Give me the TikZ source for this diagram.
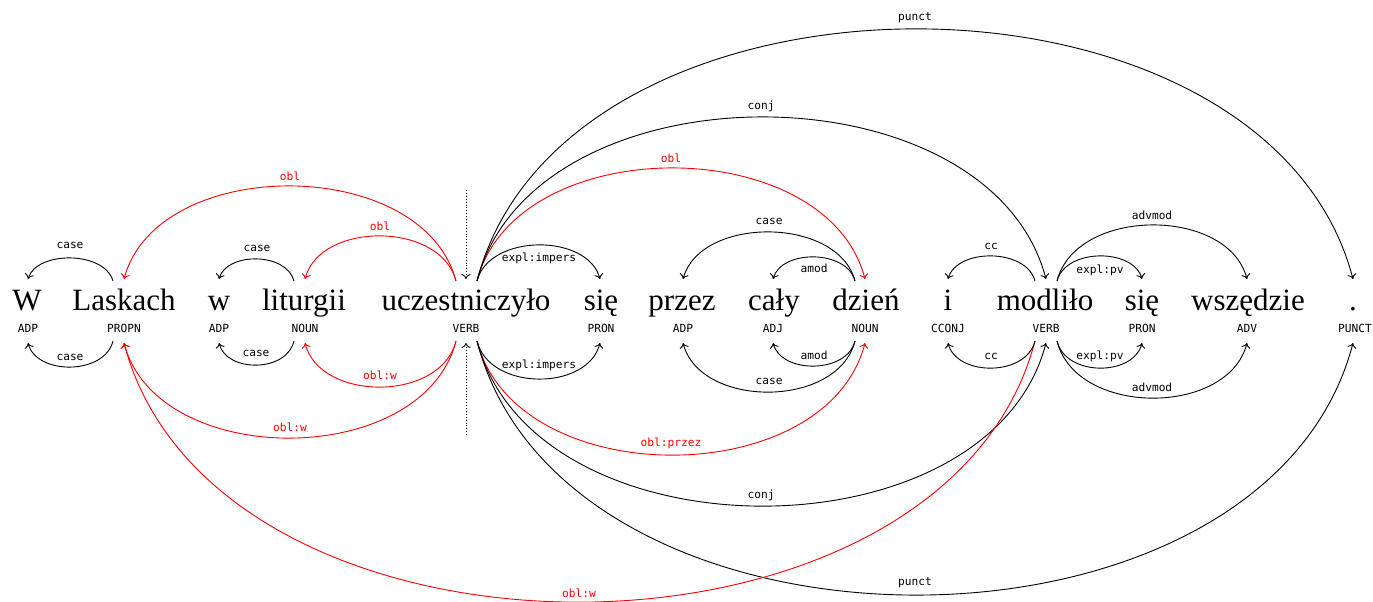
\documentclass[tikz,border=0pt]{standalone}
\usepackage{fontspec}
\usetikzlibrary{arrows.meta,calc}
\newfontfamily\wordfont{Liberation Serif}
\newfontfamily\labfont{DejaVu Sans Mono}
\newcommand\deparc[4]{%
  \draw[#1] let \p1=(#2), \p2=(#3) in (#2) .. controls ({\x1+0.1*(\x2-\x1)},{-(#4)*1pt}) and ({\x2-0.1*(\x2-\x1)},{-(#4)*1pt}) .. (#3);}
\begin{document}
\begin{tikzpicture}[x=1pt,y=-1pt,
  word/.style={font=\wordfont\fontsize{31}{36}\selectfont, anchor=base, inner sep=0pt},
  tag/.style={font=\labfont\fontsize{11.2}{13}\selectfont, anchor=base, inner sep=0pt},
  lab/.style={font=\labfont\fontsize{11.2}{13}\selectfont, inner sep=0pt},
  rlab/.style={lab, text=red},
  dep/.style={-{To[length=5pt,width=9pt]}, line width=0.9pt},
  rdep/.style={dep, draw=red},
  rootdep/.style={dep, dotted}]
\useasboundingbox (0,0) rectangle (1373,602);
% words
\node[word] (w1) at (27,310) {W};
\node[word] (w2) at (124,310) {Laskach};
\node[word] (w3) at (219,310) {w};
\node[word] (w4) at (304,310) {liturgii};
\node[word] (w5) at (466,310) {uczestniczyło};
\node[word] (w6) at (601,310) {się};
\node[word] (w7) at (682,310) {przez};
\node[word] (w8) at (774,310) {cały};
\node[word] (w9) at (866,310) {dzień};
\node[word] (w10) at (948,310) {i};
\node[word] (w11) at (1045,310) {modliło};
\node[word] (w12) at (1142,310) {się};
\node[word] (w13) at (1248,310) {wszędzie};
\node[word] (w14) at (1353,310) {.};
% tags
\node[tag] (p1) at (28,332) {ADP};
\node[tag] (p2) at (124,332) {PROPN};
\node[tag] (p3) at (219,332) {ADP};
\node[tag] (p4) at (305,332) {NOUN};
\node[tag] (p5) at (466,332) {VERB};
\node[tag] (p6) at (601,332) {PRON};
\node[tag] (p7) at (683,332) {ADP};
\node[tag] (p8) at (773,332) {ADJ};
\node[tag] (p9) at (865,332) {NOUN};
\node[tag] (p10) at (948,332) {CCONJ};
\node[tag] (p11) at (1046,332) {VERB};
\node[tag] (p12) at (1142,332) {PRON};
\node[tag] (p13) at (1247,332) {ADV};
\node[tag] (p14) at (1355,332) {PUNCT};
% incoming points
\foreach \n/\x in {1/28,2/124,3/219,4/305,5/466,6/600,7/683,8/773,9/865,10/948,11/1046,12/1142,13/1247,14/1353}{
  \coordinate (iT\n) at (\x,279);
  \coordinate (iB\n) at (\x,343);
}
% outgoing points
\coordinate (oTL2) at (113,281); \coordinate (oBL2) at (113,341);
\coordinate (oTL4) at (294,281); \coordinate (oBL4) at (294,341);
\coordinate (oTL5) at (456,281); \coordinate (oBL5) at (456,341);
\coordinate (oTR5) at (477,281); \coordinate (oBR5) at (477,341);
\coordinate (oTL9) at (855,281); \coordinate (oBL9) at (855,341);
\coordinate (oTL11) at (1035,281); \coordinate (oBL11) at (1035,341);
\coordinate (oTR11) at (1057,281); \coordinate (oBR11) at (1057,341);
\coordinate (rootT) at (466,190); \coordinate (rootB) at (466,435);
% root
\draw[rootdep] (rootT) -- (iT5);
\draw[rootdep] (rootB) -- (iB5);
% upper arcs
\deparc{dep}{oTL2}{iT1}{250.7}
\deparc{rdep}{oTL5}{iT2}{154.7}
\deparc{dep}{oTL4}{iT3}{252}
\deparc{rdep}{oTL5}{iT4}{221.3}
\deparc{dep}{oTR5}{iT6}{233.3}
\deparc{rdep}{oTR5}{iT9}{130.7}
\deparc{dep}{oTR5}{iT11}{62.7}
\deparc{dep}{oTR5}{iT14}{-54.7}
\deparc{dep}{oTL9}{iT7}{216}
\deparc{dep}{oTL9}{iT8}{249.3}
\deparc{dep}{oTL11}{iT10}{248}
\deparc{dep}{oTR11}{iT12}{248}
\deparc{dep}{oTR11}{iT13}{206.7}
% upper labels
\node[lab] (lu1) at (70,245) {case};
\node[rlab] (lu2) at (290,176) {obl};
\node[lab] (lu3) at (257,248) {case};
\node[rlab] (lu4) at (380,226) {obl};
\node[lab] (lu5) at (539,258) {expl:impers};
\node[rlab] (lu6) at (671,158) {obl};
\node[lab] (lu7) at (761,106) {conj};
\node[lab] (lu8) at (915,18) {punct};
\node[lab] (lu9) at (769,221) {case};
\node[lab] (lu10) at (814,268) {amod};
\node[lab] (lu11) at (991,246) {cc};
\node[lab] (lu12) at (1100,270) {expl:pv};
\node[lab] (lu13) at (1152,215) {advmod};
% lower arcs
\deparc{dep}{oBL2}{iB1}{375.3}
\deparc{dep}{oBL4}{iB3}{372.7}
\deparc{rdep}{oBL5}{iB4}{402}
\deparc{rdep}{oBL5}{iB2}{470}
\deparc{dep}{oBR5}{iB6}{391.3}
\deparc{rdep}{oBR5}{iB9}{492.7}
\deparc{dep}{oBR5}{iB11}{560.7}
\deparc{dep}{oBR5}{iB14}{679.3}
\deparc{dep}{oBL9}{iB7}{408.7}
\deparc{dep}{oBL9}{iB8}{374}
\deparc{rdep}{oBL11}{iB2}{688.7}
\deparc{dep}{oBL11}{iB10}{376.7}
\deparc{dep}{oBR11}{iB12}{376.7}
\deparc{dep}{oBR11}{iB13}{416.7}
% lower labels
\node[lab] (ll1) at (70,357) {case};
\node[lab] (ll2) at (256,353) {case};
\node[rlab] (ll3) at (380,375) {obl:w};
\node[rlab] (ll4) at (290,427) {obl:w};
\node[lab] (ll5) at (539,365) {expl:impers};
\node[rlab] (ll6) at (671,443) {obl:przez};
\node[lab] (ll7) at (761,495) {conj};
\node[lab] (ll8) at (915,583) {punct};
\node[lab] (ll9) at (769,381) {case};
\node[lab] (ll10) at (814,355) {amod};
\node[rlab] (ll11) at (579,593) {obl:w};
\node[lab] (ll12) at (991,356) {cc};
\node[lab] (ll13) at (1100,356) {expl:pv};
\node[lab] (ll14) at (1152,387) {advmod};
\end{tikzpicture}
\end{document}
